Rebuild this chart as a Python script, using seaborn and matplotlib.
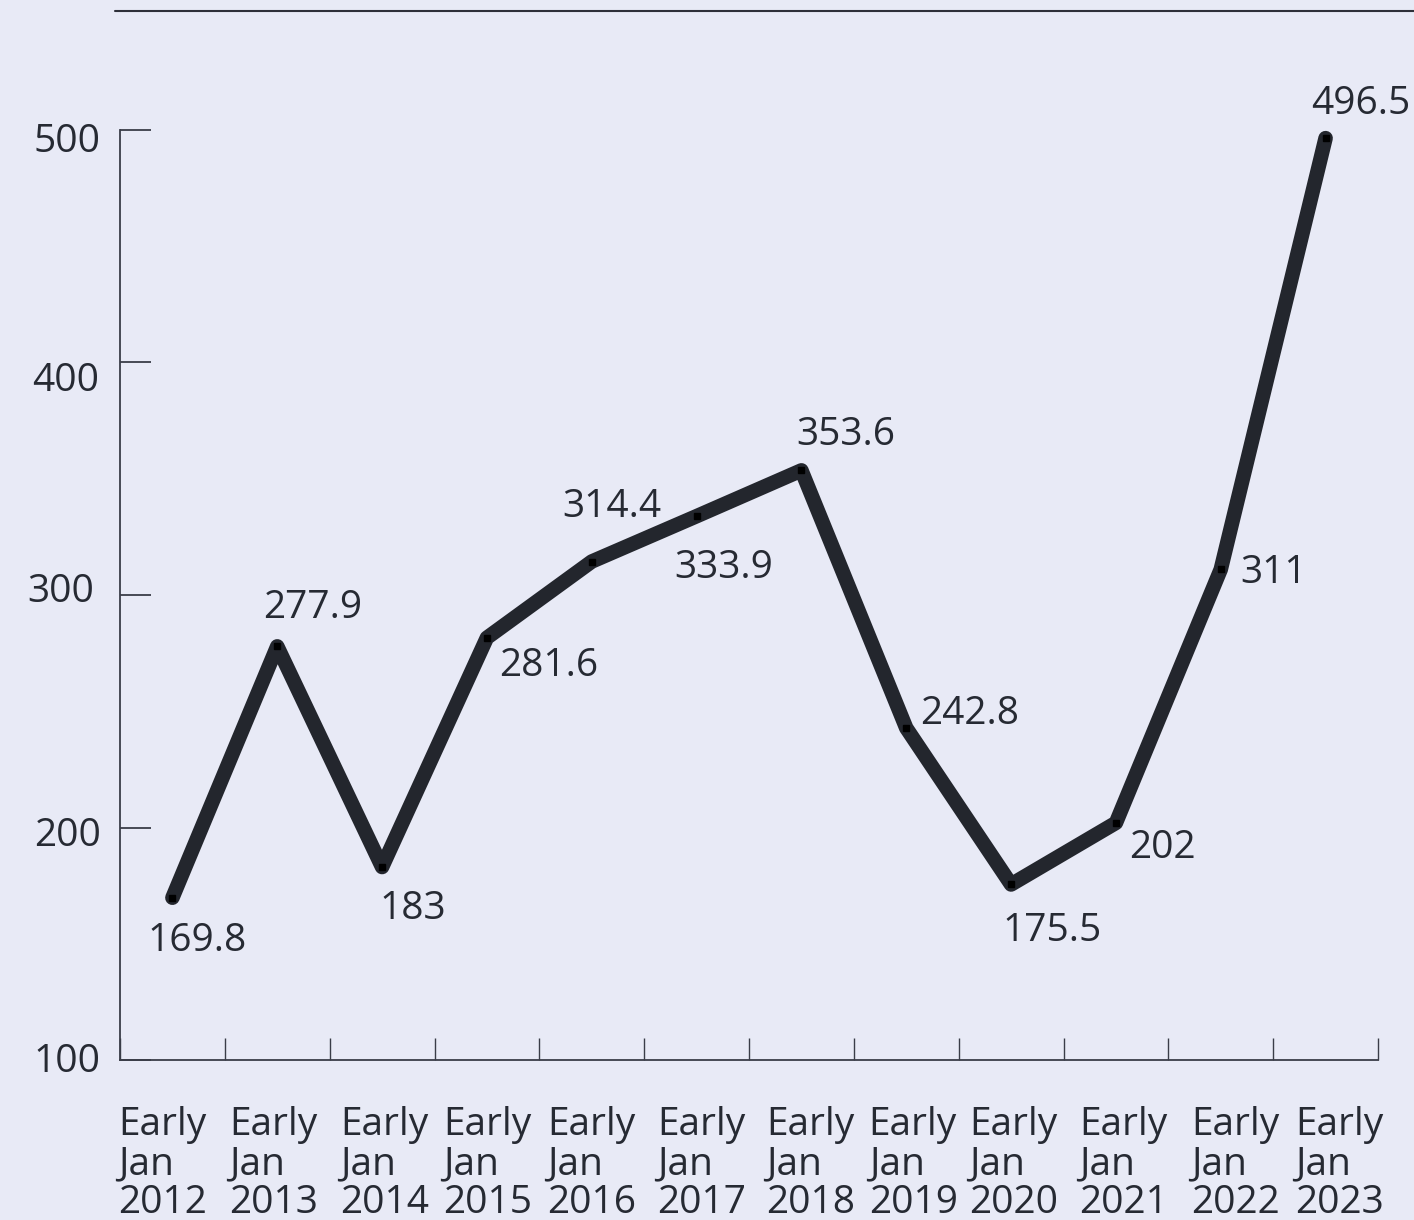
import numpy as np
import pandas as pd
import matplotlib
matplotlib.use("Agg")
import matplotlib.pyplot as plt
import matplotlib.transforms as mtransforms
from matplotlib.lines import Line2D
import seaborn as sns

# Series data
periods = ["Early\nJan\n2012", "Early\nJan\n2013", "Early\nJan\n2014", "Early\nJan\n2015",
           "Early\nJan\n2016", "Early\nJan\n2017", "Early\nJan\n2018", "Early\nJan\n2019",
           "Early\nJan\n2020", "Early\nJan\n2021", "Early\nJan\n2022", "Early\nJan\n2023"]
values = [169.8, 277.9, 183, 281.6, 314.4, 333.9, 353.6, 242.8, 175.5, 202, 311, 496.5]
value_labels = ["169.8", "277.9", "183", "281.6", "314.4", "333.9", "353.6",
                "242.8", "175.5", "202", "311", "496.5"]
y_ticks = [100, 200, 300, 400, 500]

# Label placement (pixel offsets from each point)
label_offsets = [(25, -43), (35, 38), (31, -42), (62, -28), (20, 55), (27, -52),
                 (44, 35), (63, 14), (41, -47), (47, -25), (53, -4), (35, 34)]
# Nudges for the axis labels (pixels)
period_shifts = [-10, -4, 3, 1, 0, 5, 9, 7, 3, 8, 15, 14]
ytick_shifts = [(0, 2.5), (0, -4), (-6, 8), (-1, -14), (0, -7.5)]

BG = "#e8eaf6"
INK = "#262a33"
LINE = "#23262d"
AXIS = "#3a3d48"
FS = 28

sns.set_theme(style="white")
plt.rcParams["font.family"] = ["Open Sans", "DejaVu Sans"]
plt.rcParams["axes.facecolor"] = BG
plt.rcParams["figure.facecolor"] = BG

df = pd.DataFrame({"pos": np.arange(len(values)) + 0.5, "value": values})

fig = plt.figure(figsize=(14.14, 12.2), dpi=100)
ax = fig.add_axes([120 / 1414, 1 - 1060 / 1220, (1378 - 120) / 1414, (1060 - 130) / 1220])
ax.set_facecolor(BG)

sns.lineplot(data=df, x="pos", y="value", ax=ax, color=LINE, linewidth=10.5,
             solid_capstyle="round", solid_joinstyle="round", legend=False)
ax.plot(df["pos"], df["value"], linestyle="none", marker="s", markersize=4.2,
        color="black", zorder=5)

for x, y, txt, (dx, dy) in zip(df["pos"], df["value"], value_labels, label_offsets):
    ax.annotate(txt, (x, y), xytext=(dx, dy), textcoords="offset pixels",
                ha="center", va="center", fontsize=FS, color=INK,
                annotation_clip=False)

ax.set_xlim(0, len(values))
ax.set_ylim(100, 500)
ax.set_yticks(y_ticks)
ax.set_yticklabels([str(t) for t in y_ticks])
ax.set_xticks(np.arange(len(values) + 1))
ax.set_xticklabels([])
ax.set_xticks(df["pos"], minor=True)
ax.set_xticklabels(periods, minor=True)
ax.set_xlabel("")
ax.set_ylabel("")

for side in ["top", "right"]:
    ax.spines[side].set_visible(False)
for side in ["left", "bottom"]:
    ax.spines[side].set_color(AXIS)
    ax.spines[side].set_linewidth(1.3)

ax.tick_params(axis="y", which="major", left=True, direction="in", length=22, width=1.3,
               color=AXIS, labelsize=FS, labelcolor=INK, pad=14)
ax.tick_params(axis="x", which="major", bottom=True, direction="in", length=16, width=1.0,
               color=AXIS)
ax.tick_params(axis="x", which="minor", bottom=True, length=0, labelsize=FS,
               labelcolor=INK, pad=33)

for tick, shift in zip(ax.xaxis.get_minor_ticks(), period_shifts):
    lbl = tick.label1
    lbl.set_multialignment("left")
    lbl.set_linespacing(1.04)
    lbl.set_transform(lbl.get_transform() +
                      mtransforms.Affine2D().translate(shift, 0))

for tick, (sx, sy) in zip(ax.yaxis.get_major_ticks(), ytick_shifts):
    lbl = tick.label1
    lbl.set_transform(lbl.get_transform() +
                      mtransforms.Affine2D().translate(sx, sy))

# Rule across the top of the figure
fig.add_artist(Line2D([115 / 1414, 1.0], [1 - 11 / 1220, 1 - 11 / 1220],
                      transform=fig.transFigure, color="#2e3039", linewidth=1.5))

fig.savefig("out.png", dpi=100, facecolor=BG)
